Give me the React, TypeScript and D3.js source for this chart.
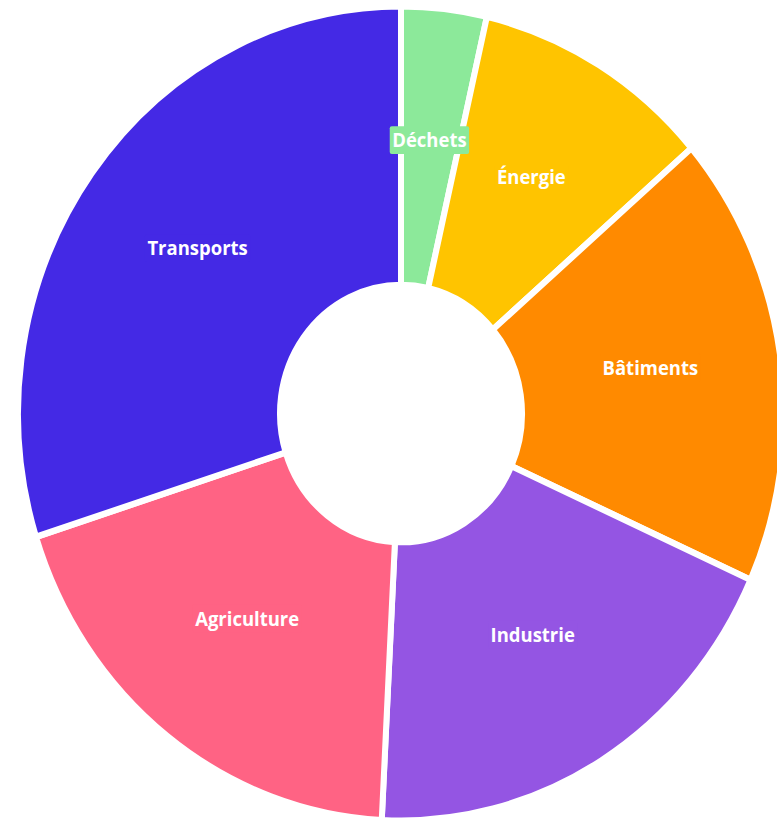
import React, { useEffect, useRef } from "react";
import * as d3 from "d3";

// Émissions par secteur (%)
const sectors = ["Déchets", "Énergie", "Bâtiments", "Industrie", "Agriculture", "Transports"];
const shares = [3.6, 10.1, 18.0, 19.1, 19.3, 29.9];
const colors = ["#8CE99A", "#FFC400", "#FF8A00", "#9455E3", "#FF6384", "#4429E5"];

const W = 777;
const H = 818;
const STRETCH = 1.063; // the picture is a bit taller than wide

const App = () => {
    const svgRef = useRef<SVGSVGElement>(null);

    useEffect(() => {
        const svg = d3.select(svgRef.current);
        svg.selectAll("*").remove();

        const vbH = H / STRETCH;
        svg.attr("viewBox", `0 0 ${W} ${vbH}`).attr("preserveAspectRatio", "none");

        const cx = 401;
        const cy = 389;
        const outerRadius = 383;
        const innerRadius = 121;

        const data = sectors.map((name, i) => ({ name, value: shares[i], color: colors[i] }));

        const pie = d3.pie<any>().sort(null).value(d => d.value);
        const arcs = pie(data);

        const arc = d3.arc<any>().innerRadius(innerRadius).outerRadius(outerRadius);

        const g = svg.append("g").attr("transform", `translate(${cx},${cy})`);

        g.selectAll("path")
            .data(arcs)
            .enter()
            .append("path")
            .attr("d", arc)
            .attr("fill", d => d.data.color)
            .attr("stroke", "#fff")
            .attr("stroke-width", 6)
            .attr("stroke-linejoin", "round");

        // labels with a background box in the slice colour
        const label = g.append("g")
            .selectAll("g")
            .data(arcs)
            .enter()
            .append("g")
            .attr("transform", d => `translate(${arc.centroid(d)})`);

        const rects = label.append("rect")
            .attr("fill", d => d.data.color)
            .attr("rx", 2);

        const texts = label.append("text")
            .attr("text-anchor", "middle")
            .attr("fill", "#fff")
            .attr("font-family", "'Open Sans', sans-serif")
            .attr("font-weight", 700)
            .attr("font-size", 18.5)
            .text(d => d.data.name);

        texts.each(function (d, i) {
            const b = (this as SVGTextElement).getBBox();
            d3.select(rects.nodes()[i])
                .attr("x", b.x - 2.5)
                .attr("y", b.y - 0.5)
                .attr("width", b.width + 5)
                .attr("height", b.height + 1);
        });
    }, []);

    return (
        <svg
            ref={svgRef}
            width={W}
            height={H}
            style={{ position: "absolute", left: 0, top: 0, display: "block" }}
        />
    );
};

export default App;
